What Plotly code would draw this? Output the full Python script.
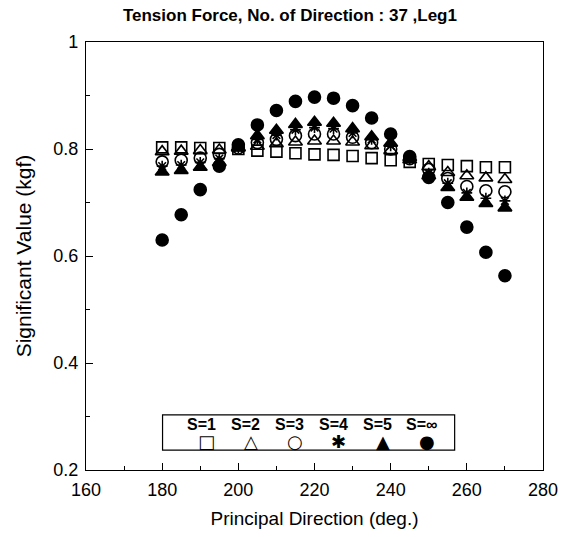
import plotly.graph_objects as go

direction = [180, 185, 190, 195, 200, 205, 210, 215, 220, 225, 230, 235, 240, 245, 250, 255, 260, 265, 270]

s1 = [0.803, 0.803, 0.802, 0.802, 0.800, 0.797, 0.795, 0.792, 0.790, 0.789, 0.787, 0.783, 0.779, 0.776, 0.772, 0.770, 0.768, 0.766, 0.766]
s2 = [0.795, 0.796, 0.797, 0.798, 0.802, 0.805, 0.810, 0.813, 0.815, 0.815, 0.813, 0.806, 0.797, 0.784, 0.767, 0.756, 0.750, 0.746, 0.743]
s3 = [0.776, 0.779, 0.783, 0.790, 0.802, 0.812, 0.818, 0.825, 0.828, 0.828, 0.822, 0.812, 0.800, 0.782, 0.762, 0.745, 0.730, 0.722, 0.720]
s4 = [0.768, 0.770, 0.775, 0.782, 0.802, 0.818, 0.826, 0.836, 0.840, 0.838, 0.830, 0.818, 0.806, 0.781, 0.755, 0.736, 0.718, 0.708, 0.703]
s5 = [0.757, 0.760, 0.766, 0.775, 0.803, 0.825, 0.835, 0.846, 0.850, 0.848, 0.838, 0.823, 0.811, 0.780, 0.750, 0.728, 0.710, 0.698, 0.690]
s_inf = [0.630, 0.677, 0.724, 0.768, 0.808, 0.845, 0.872, 0.889, 0.897, 0.895, 0.881, 0.858, 0.828, 0.786, 0.747, 0.700, 0.654, 0.607, 0.563]

series_names = ["S=1", "S=2", "S=3", "S=4", "S=5", "S=\u221e"]
series_values = [s1, s2, s3, s4, s5, s_inf]
symbols = ["square-open", "triangle-up-open", "circle-open", "asterisk-open", "triangle-up", "circle"]
legend_glyphs = ["\u25a1", "\u25b3", "\u25cb", "\u2731", "\u25b2", "\u25cf"]
sizes = [11, 12, 12, 9, 12, 12]

fig = go.Figure()
for name, vals, sym, sz in zip(series_names, series_values, symbols, sizes):
    fig.add_trace(go.Scatter(
        x=direction, y=vals, mode="markers", name=name,
        marker=dict(symbol=sym, size=sz, color="black", line=dict(color="black", width=1.6)),
        showlegend=False,
    ))

font_family = "Liberation Sans, Arial, sans-serif"

# custom legend box (label above symbol)
fig.add_shape(type="rect", xref="x", yref="y", x0=180.1, x1=256.8, y0=0.237, y1=0.303,
              line=dict(color="black", width=1.2), fillcolor="white", layer="above")
for i, (name, glyph) in enumerate(zip(series_names, legend_glyphs)):
    gx = 191.7 + 11.55 * i
    fig.add_annotation(x=gx - 1.4, y=0.285, xref="x", yref="y", text="<b>" + name + "</b>",
                       showarrow=False, font=dict(size=16, color="black", family=font_family))
    fig.add_annotation(x=gx, y=0.253, xref="x", yref="y", text=glyph,
                       showarrow=False, font=dict(size=18, color="black", family="DejaVu Sans"))

fig.update_layout(
    width=573, height=537,
    paper_bgcolor="white", plot_bgcolor="white",
    margin=dict(l=86, r=30, t=42, b=67),
    title=dict(text="<b>Tension Force, No. of Direction : 37 ,Leg1</b>", x=0.506, xanchor="center",
               y=1 - 15 / 537, yanchor="middle", font=dict(size=17, color="black", family=font_family)),
    font=dict(family=font_family, color="black", size=17),
)
fig.update_xaxes(range=[160, 280], tickvals=[160, 180, 200, 220, 240, 260, 280],
                 ticks="inside", ticklen=7, tickwidth=1, tickcolor="black",
                 minor=dict(tickvals=[170, 190, 210, 230, 250, 270], ticks="inside", ticklen=4, tickcolor="black"),
                 showline=True, linecolor="black", linewidth=1.2, mirror=True, showgrid=False, zeroline=False,
                 title=dict(text="Principal Direction (deg.)", font=dict(size=19), standoff=12),
                 tickfont=dict(size=18), ticklabelstandoff=3)
fig.update_yaxes(range=[0.2, 1.0], tickvals=[0.2, 0.4, 0.6, 0.8, 1.0], ticktext=["0.2", "0.4", "0.6", "0.8", "1"],
                 ticks="inside", ticklen=7, tickwidth=1, tickcolor="black",
                 minor=dict(tickvals=[0.3, 0.5, 0.7, 0.9], ticks="inside", ticklen=4, tickcolor="black"),
                 showline=True, linecolor="black", linewidth=1.2, mirror=True, showgrid=False, zeroline=False,
                 title=dict(text="Significant Value (kgf)", font=dict(size=21), standoff=15),
                 tickfont=dict(size=18), ticklabelstandoff=3)

fig.write_html("out.html", config={"displayModeBar": False},
               post_script="document.body.style.margin='0';document.body.style.overflow='hidden';")
